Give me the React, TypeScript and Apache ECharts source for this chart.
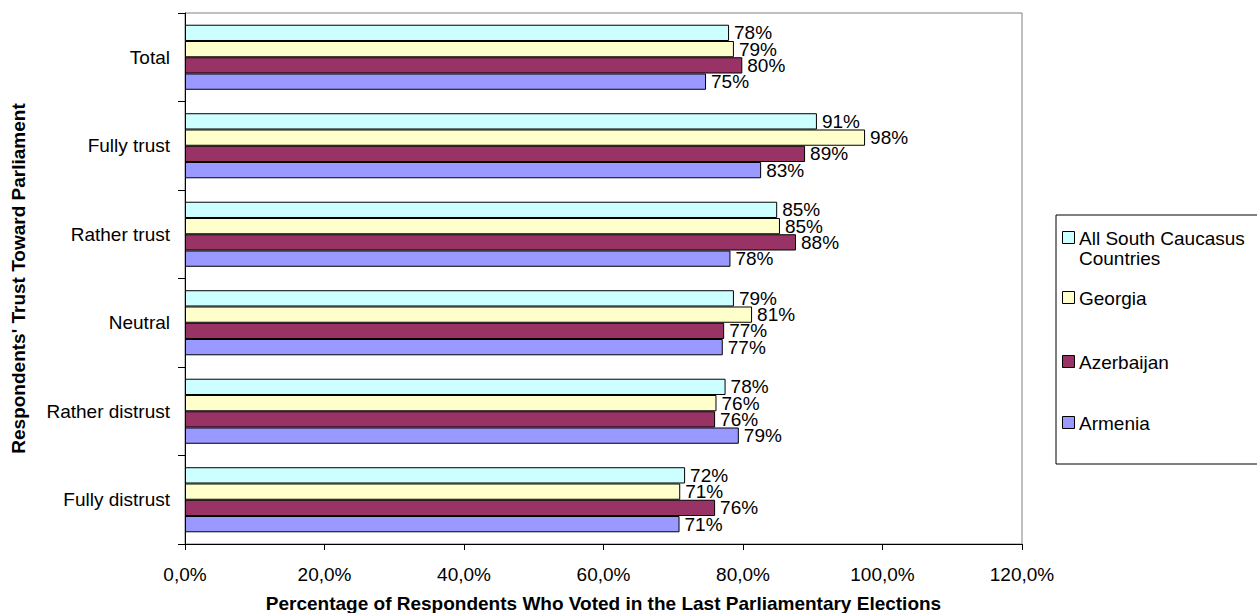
import React, { useEffect, useRef } from "react";
import * as echarts from "echarts";

// Trust toward parliament vs. turnout in the last parliamentary elections
const categories = ["Total", "Fully trust", "Rather trust", "Neutral", "Rather distrust", "Fully distrust"];
const seriesNames = ["All South Caucasus Countries", "Georgia", "Azerbaijan", "Armenia"];
const legendLabels = ["All South Caucasus\nCountries", "Georgia", "Azerbaijan", "Armenia"];
const seriesColors = ["#CCFFFF", "#FFFFCC", "#993366", "#9999FF"];

const allSouthCaucasus = [78.0, 90.6, 84.9, 78.7, 77.5, 71.7];
const georgia = [78.7, 97.5, 85.3, 81.3, 76.2, 71.0];
const azerbaijan = [79.9, 88.9, 87.6, 77.3, 76.0, 76.0];
const armenia = [74.7, 82.6, 78.2, 77.1, 79.4, 70.9];

const xTicks = { min: 0, max: 120, interval: 20 };

const FONT = 'Arial, "Liberation Sans", sans-serif';

export default function App() {
  const ref = useRef<HTMLDivElement>(null);

  useEffect(() => {
    document.body.style.margin = "0";
    if (!ref.current) return;
    const chart = echarts.init(ref.current, null, { renderer: "svg" });

    const values = [allSouthCaucasus, georgia, azerbaijan, armenia];

    // legend drawn as a boxed key on the right
    const legendCenters = [238, 298, 362, 423];
    const legendChildren: any[] = [
      {
        type: "rect",
        shape: { x: 1056, y: 215, width: 215, height: 249 },
        style: { fill: "#fff", stroke: "#000", lineWidth: 1 },
      },
    ];
    seriesNames.forEach((_, i) => {
      const cy = legendCenters[i];
      legendChildren.push({
        type: "rect",
        shape: { x: 1062.5, y: cy - 6.5, width: 12, height: 12 },
        style: { fill: seriesColors[i], stroke: "#000", lineWidth: 1 },
      });
      legendChildren.push({
        type: "text",
        x: 1079,
        y: cy - 10,
        style: {
          text: legendLabels[i],
          fill: "#000",
          font: `19px ${FONT}`,
          lineHeight: 20,
          verticalAlign: "top",
          align: "left",
        },
      });
    });

    chart.setOption({
      animation: false,
      backgroundColor: "#fff",
      grid: {
        left: 185,
        top: 13,
        width: 837,
        height: 531,
        outerBoundsMode: "none",
        containLabel: false,
        show: true,
        borderColor: "#808080",
        borderWidth: 1,
        backgroundColor: "transparent",
      },
      xAxis: {
        type: "value",
        min: xTicks.min,
        max: xTicks.max,
        interval: xTicks.interval,
        name: "Percentage of Respondents Who Voted in the Last Parliamentary Elections",
        nameLocation: "middle",
        nameGap: 59,
        nameMoveOverlap: false,
        nameTextStyle: {
          fontFamily: FONT,
          fontSize: 19,
          fontWeight: "bold",
          color: "#000",
          verticalAlign: "middle",
        },
        axisLine: { show: true, lineStyle: { color: "#000", width: 1 } },
        axisTick: { show: true, length: 6, lineStyle: { color: "#000" } },
        splitLine: { show: false },
        axisLabel: {
          margin: 21,
          fontFamily: FONT,
          fontSize: 19,
          color: "#000",
          formatter: (v: number) => v.toFixed(1).replace(".", ",") + "%",
        },
      },
      yAxis: {
        type: "category",
        data: categories,
        inverse: true,
        name: "Respondents' Trust Toward Parliament",
        nameLocation: "middle",
        nameGap: 167,
        nameRotate: 90,
        nameMoveOverlap: false,
        nameTextStyle: {
          fontFamily: FONT,
          fontSize: 19,
          fontWeight: "bold",
          color: "#000",
          verticalAlign: "middle",
        },
        axisLine: { show: true, lineStyle: { color: "#000", width: 1 } },
        axisTick: { show: true, length: 7, interval: 0, lineStyle: { color: "#000" } },
        axisLabel: { margin: 15, fontFamily: FONT, fontSize: 19, color: "#000", interval: 0 },
      },
      series: seriesNames.map((name, i) => ({
        name,
        type: "bar",
        data: values[i],
        barGap: "0%",
        barCategoryGap: "26.5%",
        itemStyle: { color: seriesColors[i], borderColor: "#000", borderWidth: 1 },
        label: {
          show: true,
          position: "right",
          distance: 5,
          fontFamily: FONT,
          fontSize: 19,
          color: "#000",
          formatter: (p: any) => Math.round(p.value) + "%",
        },
      })),
      graphic: [{ type: "group", children: legendChildren }],
    });

    return () => chart.dispose();
  }, []);

  return <div ref={ref} style={{ width: 1257, height: 613 }} />;
}
